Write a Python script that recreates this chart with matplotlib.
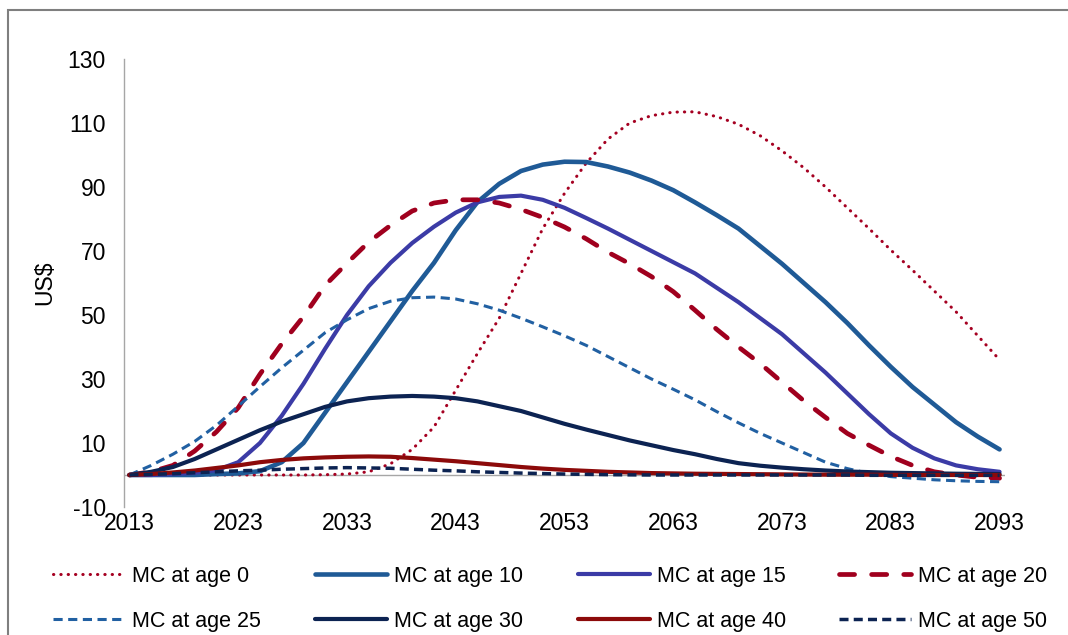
import matplotlib
matplotlib.use("Agg")
import matplotlib.pyplot as plt
from matplotlib.patches import Rectangle

plt.rcParams['font.family'] = ['Liberation Sans', 'DejaVu Sans']
plt.rcParams['axes.unicode_minus'] = False

years = list(range(2013, 2094, 2))
age0 = [0, 0, 0, 0, 0, 0, 0, 0, 0,
        0.1, 0.3, 1.0, 3.5, 8, 15, 26.5, 38, 49, 63, 77, 88, 97.5, 105, 110, 112.3, 113.4,
        113.5, 112, 109.6, 106, 101.3, 96, 90, 83.5, 77, 70.3, 64, 57.5, 51, 43.5, 36]
age10 = [0, 0, 0, 0, 0.3, 0.5, 1.2, 4, 10, 19.5, 29, 38.5, 48, 57.5, 66.3, 76.5, 85.3, 91, 95, 97,
         97.9, 97.8, 96.4, 94.5, 92, 89, 85.2, 81.2, 77, 71.5, 66, 60, 54, 47.5, 40.5, 33.8,
         27.5, 22, 16.5, 12, 8]
age15 = [0, 0, 0.3, 0.7, 1.5, 4, 10, 18.5, 28.5, 39.5, 50, 59, 66.3, 72.5, 77.6, 82, 85.2, 86.9,
         87.3, 86, 83.5, 80.3, 77, 73.5, 70, 66.5, 63, 58.5, 54, 49, 44, 38, 32, 25.5, 19, 13,
         8.5, 5.2, 3, 1.8, 1]
age20 = [0, 1, 3, 7.5, 13.5, 21, 31.5, 41, 49.5, 59.3, 66.2, 72.8, 78, 82.5, 85, 86, 86, 85, 83,
         80.5, 77.5, 73.8, 69.6, 66, 62, 57.3, 51.5, 45.5, 40, 34.8, 29, 23.2, 18, 13, 9.3, 5.8,
         3, 1, 0, -0.7, -1]
age25 = [0, 3, 6.5, 10.5, 15.5, 21.5, 27.6, 33.5, 39, 44.5, 48.5, 52, 54.3, 55.4, 55.6, 55, 53.5,
         51.5, 49, 46.3, 43.5, 40.5, 37, 33.5, 30, 26.8, 23.5, 19.8, 16.3, 13, 10, 7, 4, 2, 0.5,
         -0.5, -1, -1.5, -1.8, -2, -2.1]
age30 = [0, 1, 2.5, 5, 8, 11, 14, 16.7, 19, 21.3, 23, 24, 24.5, 24.7, 24.5, 24, 23, 21.5, 20, 18,
         16, 14.2, 12.5, 10.8, 9.3, 7.8, 6.5, 5, 3.7, 2.9, 2.3, 1.8, 1.4, 1.1, 0.9, 0.7, 0.6, 0.5,
         0.4, 0.35, 0.3]
age40 = [0, 0.3, 0.8, 1.4, 2.2, 3, 4, 4.7, 5.2, 5.5, 5.7, 5.8, 5.7, 5.3, 4.8, 4.3, 3.7, 3.1, 2.5,
         2, 1.6, 1.3, 1, 0.8, 0.6, 0.5, 0.4, 0.35, 0.3, 0.25, 0.2, 0.15, 0.1, 0.1, 0.1, 0.05,
         0, 0, 0, 0, 0]
age50 = [0, 0.2, 0.4, 0.7, 1.0, 1.3, 1.5, 1.8, 2.0, 2.2, 2.3, 2.2, 2.1, 1.8, 1.5, 1.3, 1.0, 0.8,
         0.6, 0.45, 0.3, 0.2, 0.1, 0.05, 0, 0, 0, 0, 0, 0, 0, 0, 0, 0,
         -0.1, -0.1, -0.1, -0.1, -0.1, -0.1, -0.1]

labels = ['MC at age 0', 'MC at age 10', 'MC at age 15', 'MC at age 20',
          'MC at age 25', 'MC at age 30', 'MC at age 40', 'MC at age 50']
yticks = [-10, 10, 30, 50, 70, 90, 110, 130]
xticks = list(range(2013, 2094, 10))

W, H = 1068, 635
fig = plt.figure(figsize=(W / 100, H / 100), dpi=100)
ax = fig.add_axes([124 / W, 1 - 507 / H, (1005 - 124) / W, (507 - 59) / H])

series = [age0, age10, age15, age20, age25, age30, age40, age50]
styles = [
    dict(color='#A50021', lw=2.2, ls=(0, (0.1, 2.3)), dash_capstyle='round'),
    dict(color='#1F5A96', lw=3.3, ls='-'),
    dict(color='#3B3BA6', lw=3.0, ls='-'),
    dict(color='#A0001E', lw=3.4, ls=(0, (3.2, 3.6)), dash_capstyle='round'),
    dict(color='#2160A2', lw=2.2, ls=(0, (3.0, 1.8))),
    dict(color='#0C2352', lw=3.0, ls='-'),
    dict(color='#8C0A0A', lw=3.0, ls='-'),
    dict(color='#0C2352', lw=2.5, ls=(0, (2.6, 1.5))),
]
handles = []
for s, st, lab in zip(series, styles, labels):
    ln, = ax.plot(years, s, label=lab, solid_capstyle='round', solid_joinstyle='round', **st)
    handles.append(ln)

ax.axhline(0, color='#A6A6A6', lw=1.0, zorder=0.5)
ax.set_xlim(2012.5, 2093.5)
ax.set_ylim(-10, 130)
ax.set_yticks(yticks)
ax.set_xticks(xticks)
ax.tick_params(axis='both', length=0, labelsize=16.5, colors='black')
ax.tick_params(axis='y', pad=13)
ax.tick_params(axis='x', pad=3.5)
for sp in ['top', 'right', 'bottom']:
    ax.spines[sp].set_visible(False)
ax.spines['left'].set_color('#A6A6A6')
ax.spines['left'].set_linewidth(1.0)
ax.set_ylabel('US$', fontsize=16.5, labelpad=8)

# legend: one small legend per column
cols_x = [53, 315, 578, 839]
for i, cx in enumerate(cols_x):
    hs = [handles[i], handles[i + 4]]
    fig.legend(hs, [labels[i], labels[i + 4]], loc='upper left',
               bbox_to_anchor=(cx / W, 1 - 566 / H), frameon=False,
               fontsize=15.5, borderpad=0, borderaxespad=0,
               handlelength=3.35, handletextpad=0.33, labelspacing=1.1)

# outer frame
fig.patches.append(Rectangle((8 / W, -0.1), 1.2, 1 - 10 / H + 0.1, transform=fig.transFigure,
                             fill=False, edgecolor='#7F7F7F', lw=1.5))

fig.savefig('out.png', dpi=100)
